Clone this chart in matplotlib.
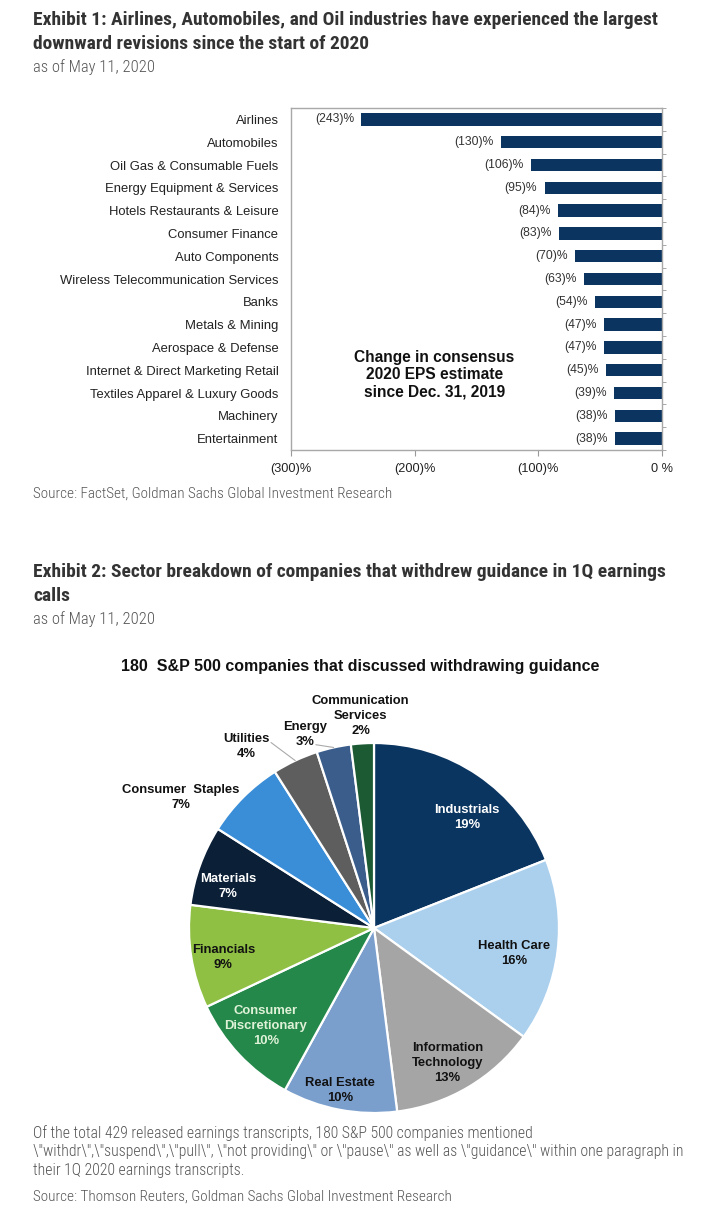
import numpy as np
import matplotlib
matplotlib.use("Agg")
import matplotlib.pyplot as plt
from matplotlib import font_manager

# Exhibit 1 data
industries = ["Airlines", "Automobiles", "Oil Gas & Consumable Fuels",
              "Energy Equipment & Services", "Hotels Restaurants & Leisure",
              "Consumer Finance", "Auto Components",
              "Wireless Telecommunication Services", "Banks", "Metals & Mining",
              "Aerospace & Defense", "Internet & Direct Marketing Retail",
              "Textiles Apparel & Luxury Goods", "Machinery", "Entertainment"]
eps_change = [-243, -130, -106, -95, -84, -83, -70, -63, -54, -47, -47, -45, -39, -38, -38]
x_ticks = [-300, -200, -100, 0]
x_tick_labels = ["(300)%", "(200)%", "(100)%", "0 %"]

# Exhibit 2 data
sectors = ["Industrials", "Health Care", "Information\nTechnology", "Real Estate",
           "Consumer\nDiscretionary", "Financials", "Materials", "Consumer  Staples",
           "Utilities", "Energy", "Communication\nServices"]
shares = [19, 16, 13, 10, 10, 9, 7, 7, 4, 3, 2]

colors = ["#0b3561", "#abd0ee", "#a5a5a5", "#7b9fcd", "#24884a", "#8fc043",
          "#0b1f37", "#3a8ed8", "#5e5e5e", "#3a5d8c", "#1c5a34"]
text_colors = ["white", "#111111", "#111111", "#111111", "#dff2d8", "#111111",
               "white", "#111111", "#111111", "#111111", "#111111"]
label_r = [0.78, 0.77, 0.83, 0.90, 0.79, 0.83, 0.82, 1.26, 1.20, 1.11, 1.15]
label_shift = [-6, -3, -2, -1, -1, 2, 4, 11, 10, 7, 0]
# where the leader line leaves the label, relative to the label centre
leader_offset = {"Utilities": (0.135, 0.022), "Energy": (0.058, -0.055)}


def pick(names):
    avail = {f.name for f in font_manager.fontManager.ttflist}
    for n in names:
        if n in avail:
            return n
    return "DejaVu Sans"


narrow = pick(["Roboto Condensed", "Liberation Sans Narrow", "Open Sans Condensed", "DejaVu Sans"])
arial = pick(["Liberation Sans", "Arial", "DejaVu Sans"])
plt.rcParams["font.family"] = [arial, "DejaVu Sans"]

W, H = 727, 1219
fig = plt.figure(figsize=(W / 100, H / 100), dpi=100)


def fx(px):
    return px / W


def fy(py):
    return 1 - py / H


# headings
head = dict(family=narrow, fontsize=14, weight="bold", color="#333333", va="center")
sub = dict(family=narrow, fontsize=11.9, weight="light", color="#555555", va="center")
note = dict(family=narrow, fontsize=11.3, weight="light", color="#555555", va="center")
src = dict(family=narrow, fontsize=10.9, weight="light", color="#555555", va="center")

fig.text(fx(33), fy(20), "Exhibit 1: Airlines, Automobiles, and Oil industries have experienced the largest", **head)
fig.text(fx(33), fy(44), "downward revisions since the start of 2020", **head)
fig.text(fx(33), fy(67), "as of May 11, 2020", **sub)
fig.text(fx(33), fy(494), "Source: FactSet, Goldman Sachs Global Investment Research", **src)

fig.text(fx(33), fy(572), "Exhibit 2: Sector breakdown of companies that withdrew guidance in 1Q earnings", **head)
fig.text(fx(33), fy(596), "calls", **head)
fig.text(fx(33), fy(619), "as of May 11, 2020", **sub)

notes = ["Of the total 429 released earnings transcripts, 180 S&P 500 companies mentioned",
         '\\"withdr\\",\\"suspend\\",\\"pull\\", \\"not providing\\" or \\"pause\\" as well as \\"guidance\\" within one paragraph in',
         "their 1Q 2020 earnings transcripts."]
for i, line in enumerate(notes):
    fig.text(fx(33), fy(1133 + i * 18.5), line, **note)
fig.text(fx(33), fy(1197), "Source: Thomson Reuters, Goldman Sachs Global Investment Research", **src)

# Exhibit 1 bar chart
ax = fig.add_axes([fx(291), fy(450), fx(662) - fx(291), fy(108) - fy(450)])
ypos = np.arange(len(industries))
ax.barh(ypos, eps_change, height=0.55, color="#0c3461")
for y, v in zip(ypos, eps_change):
    ax.text(v - 6, y, f"({-v})%", ha="right", va="center", fontsize=8.7, color="#333333")
ax.set_xlim(-300, 0)
ax.set_ylim(len(industries) - 0.5, -0.5)
ax.set_yticks(ypos)
ax.set_yticklabels(industries, fontsize=9.4, color="#222222")
ax.tick_params(axis="y", length=0, pad=9)
ax.set_yticks(np.arange(len(industries) + 1) - 0.5, minor=True)
ax.tick_params(axis="y", which="minor", right=True, left=False, length=3, color="#999999")
ax.set_xticks(x_ticks)
ax.set_xticklabels(x_tick_labels, fontsize=9.2, color="#222222")
ax.tick_params(axis="x", length=4, color="#999999", pad=5)
for s in ax.spines.values():
    s.set_color("#a8a8a8")
    s.set_linewidth(1.0)
ax.text(-184, 11.2, "Change in consensus\n2020 EPS estimate\nsince Dec. 31, 2019",
        ha="center", va="center", fontsize=11.2, weight="bold", color="#111111", linespacing=1.15)

# Exhibit 2 pie chart
R = 185
half = 250
ax2 = fig.add_axes([fx(374 - half), fy(928 + half), 2 * half / W, 2 * half / H])
wedges, _ = ax2.pie(shares, colors=colors, startangle=90, counterclock=False,
                    wedgeprops=dict(edgecolor="white", linewidth=1.6))
ax2.set_xlim(-half / R, half / R)
ax2.set_ylim(-half / R, half / R)
ax2.set_aspect("equal")
ax2.axis("off")

line_gap = 10.8  # points between label lines
for i, w in enumerate(wedges):
    mid_deg = (w.theta1 + w.theta2) / 2
    mid = np.deg2rad(mid_deg + label_shift[i])
    lx, ly = label_r[i] * np.cos(mid), label_r[i] * np.sin(mid)
    lines = sectors[i].split("\n") + [f"{shares[i]}%"]
    n = len(lines)
    for k, line in enumerate(lines):
        off = ((n - 1) / 2 - k) * line_gap
        ax2.annotate(line, xy=(lx, ly), xytext=(0, off), textcoords="offset points",
                     ha="center", va="center", fontsize=9.4, weight="bold",
                     color=text_colors[i])
    if sectors[i] in leader_offset:
        dx, dy = leader_offset[sectors[i]]
        emid = np.deg2rad(mid_deg)
        ax2.annotate("", xy=(np.cos(emid), np.sin(emid)), xytext=(lx + dx, ly + dy),
                     arrowprops=dict(arrowstyle="-", color="#aaaaaa", lw=0.8,
                                     shrinkA=0, shrinkB=0))

fig.text(fx(360), fy(666), "180  S&P 500 companies that discussed withdrawing guidance",
         ha="center", va="center", fontsize=11.5, weight="bold", color="#111111")

fig.savefig("out.png", dpi=100)
